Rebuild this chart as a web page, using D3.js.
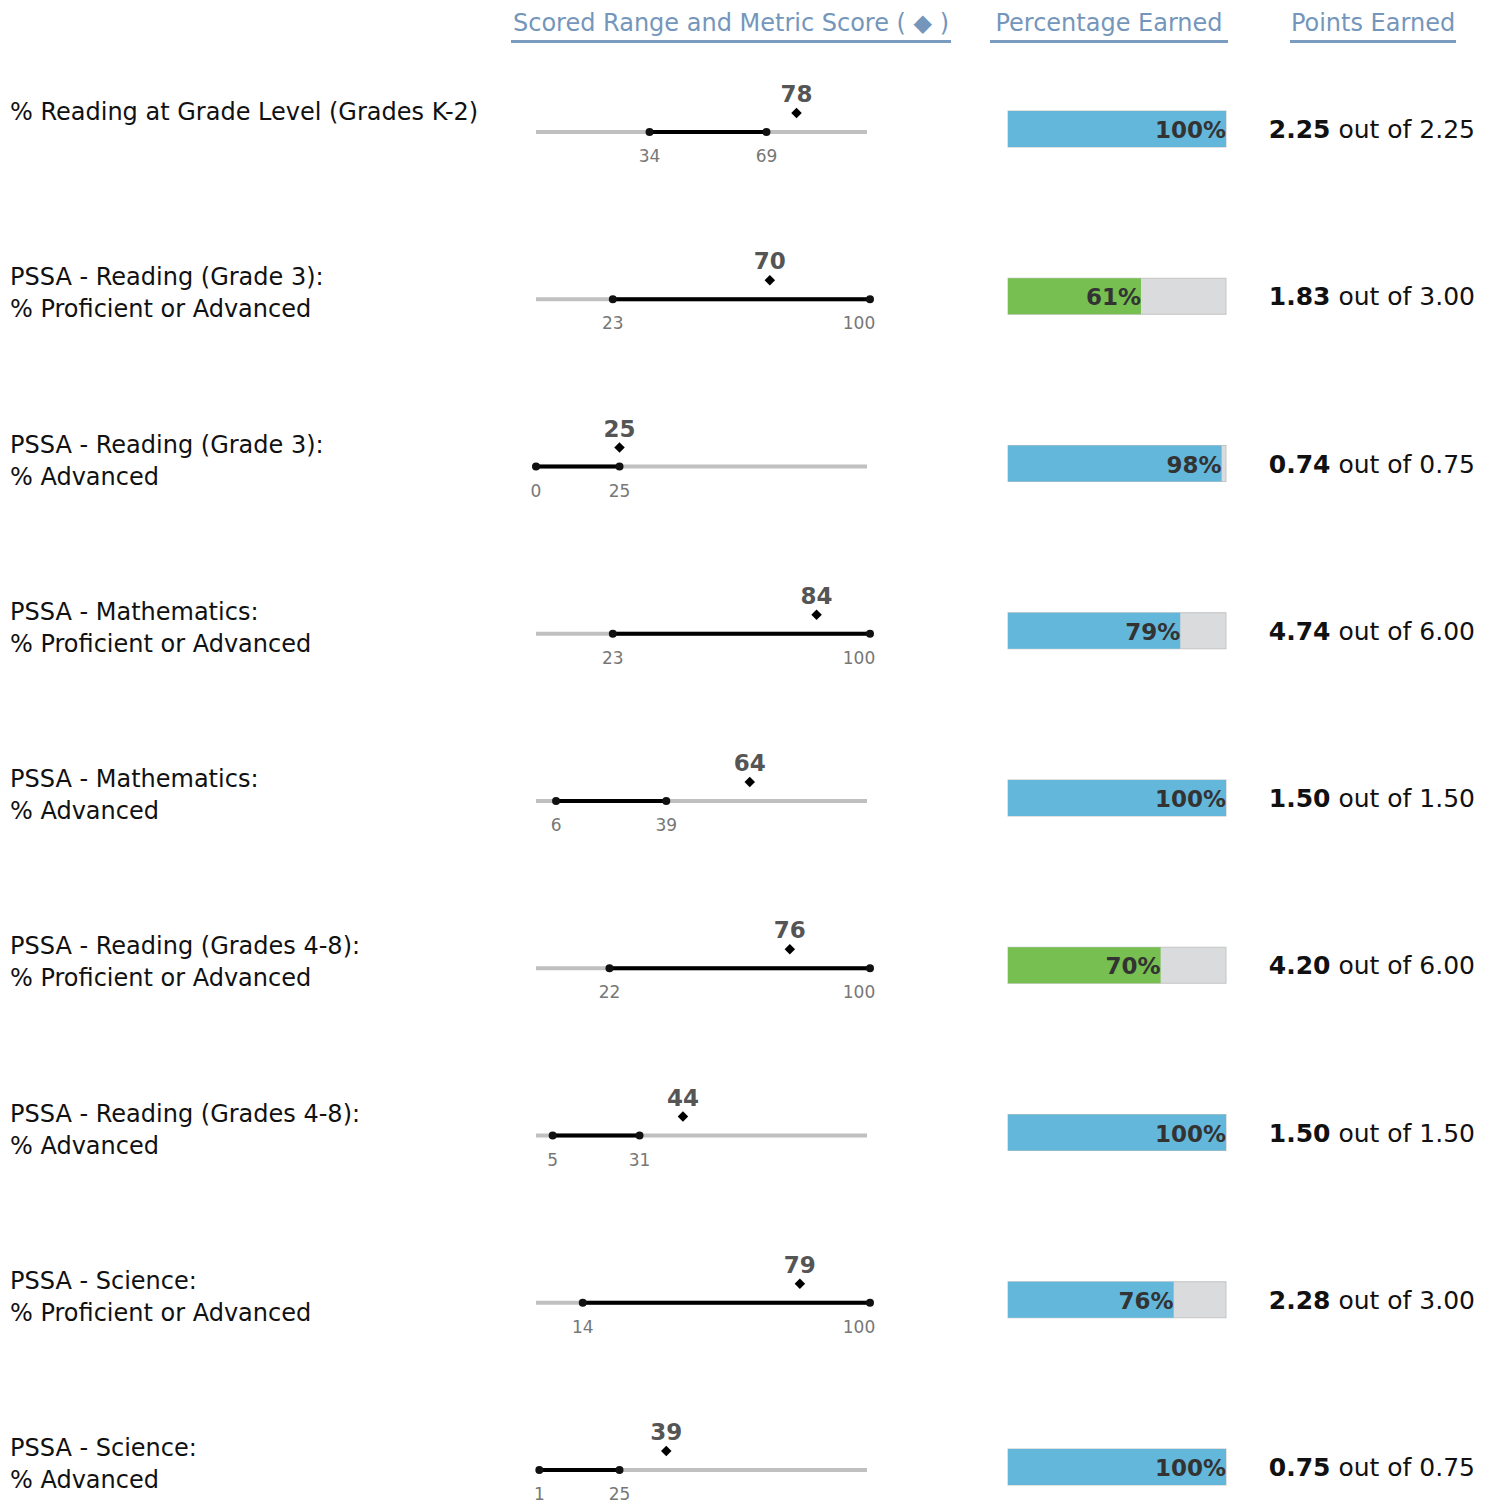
<!DOCTYPE html>
<html><head><meta charset="utf-8">
<script src="https://cdn.jsdelivr.net/npm/d3@7"></script>
<style>body{margin:0;background:#fff}svg{display:block}</style>
</head><body>
<script>
const labelLines = [
  ["% Reading at Grade Level (Grades K-2)"],
  ["PSSA - Reading (Grade 3):", "% Proficient or Advanced"],
  ["PSSA - Reading (Grade 3):", "% Advanced"],
  ["PSSA - Mathematics:", "% Proficient or Advanced"],
  ["PSSA - Mathematics:", "% Advanced"],
  ["PSSA - Reading (Grades 4-8):", "% Proficient or Advanced"],
  ["PSSA - Reading (Grades 4-8):", "% Advanced"],
  ["PSSA - Science:", "% Proficient or Advanced"],
  ["PSSA - Science:", "% Advanced"]
];
const rangeLow  = [34, 23, 0, 23, 6, 22, 5, 14, 1];
const rangeHigh = [69, 100, 25, 100, 39, 100, 31, 100, 25];
const scores    = [78, 70, 25, 84, 64, 76, 44, 79, 39];
const pctEarned = [100, 61, 98, 79, 100, 70, 100, 76, 100];
const pointsEarned = ["2.25", "1.83", "0.74", "4.74", "1.50", "4.20", "1.50", "2.28", "0.75"];
const pointsMax    = ["2.25", "3.00", "0.75", "6.00", "1.50", "6.00", "1.50", "3.00", "0.75"];
const barGroup = ["blue", "green", "blue", "blue", "blue", "green", "blue", "blue", "blue"];
const headers = ["Scored Range and Metric Score ( \u25C6 )", "Percentage Earned", "Points Earned"];

const W = 1495, H = 1503;
const svg = d3.select("body").append("svg").attr("width", W).attr("height", H);

const rowY = d3.scaleLinear().domain([0, labelLines.length - 1]).range([132, 1470]);
const x = d3.scaleLinear().domain([0, 100]).range([536, 870]);
const pctX = d3.scaleLinear().domain([0, 100]).range([1008, 1226]);
const barColor = d3.scaleOrdinal().domain(["blue", "green"]).range(["#63b7da", "#76bf50"]);

// headers
const headerCols = [{x0: 511, x1: 951}, {x0: 990, x1: 1228}, {x0: 1290, x1: 1456}];
const hg = svg.append("g");
headers.forEach((h, i) => {
  const c = headerCols[i];
  hg.append("text").attr("x", (c.x0 + c.x1) / 2).attr("y", 31)
    .attr("text-anchor", "middle").attr("font-family", "DejaVu Sans, Verdana, sans-serif")
    .attr("font-size", 24).attr("fill", "#7596bb").text(h);
  hg.append("line").attr("x1", c.x0).attr("x2", c.x1).attr("y1", 41.5).attr("y2", 41.5)
    .attr("stroke", "#7a9cc0").attr("stroke-width", 3);
});

const rows = svg.selectAll("g.row").data(labelLines.map((l, i) => i)).join("g").attr("class", "row");

// labels
rows.each(function(i) {
  const g = d3.select(this);
  const lines = labelLines[i];
  const cy = rowY(i);
  const t = g.append("text").attr("font-family", "DejaVu Sans, Verdana, sans-serif")
    .attr("font-size", 24).attr("fill", "#111");
  if (lines.length === 1) {
    t.append("tspan").attr("x", 10).attr("y", cy - 12).text(lines[0]);
  } else {
    lines.forEach((ln, k) => {
      t.append("tspan").attr("x", 10).attr("y", cy - 14 + k * 32).text(ln);
    });
  }
});

// range chart
rows.each(function(i) {
  const g = d3.select(this);
  const cy = rowY(i);
  g.append("line").attr("x1", x(0)).attr("x2", x(100) - 3).attr("y1", cy).attr("y2", cy)
    .attr("stroke", "#c0c0c0").attr("stroke-width", 4);
  g.append("line").attr("x1", x(rangeLow[i])).attr("x2", x(rangeHigh[i])).attr("y1", cy).attr("y2", cy)
    .attr("stroke", "#000").attr("stroke-width", 4);
  [rangeLow[i], rangeHigh[i]].forEach(v => {
    g.append("circle").attr("cx", x(v)).attr("cy", cy).attr("r", 4).attr("fill", "#111");
    const tx = Math.min(x(v), 859);
    g.append("text").attr("x", tx).attr("y", cy + 30).attr("text-anchor", "middle")
      .attr("font-family", "DejaVu Sans, Verdana, sans-serif").attr("font-size", 17)
      .attr("fill", "#777").text(v);
  });
  g.append("path").attr("d", d3.symbol(d3.symbolDiamond2, 70)())
    .attr("transform", `translate(${x(scores[i])},${cy - 19})`).attr("fill", "#000");
  g.append("text").attr("x", x(scores[i])).attr("y", cy - 30).attr("text-anchor", "middle")
    .attr("font-family", "DejaVu Sans, Verdana, sans-serif").attr("font-size", 23).attr("font-weight", "bold")
    .attr("fill", "#555").text(scores[i]);
});

// percentage bars
rows.each(function(i) {
  const g = d3.select(this);
  const cy = rowY(i) - 3;
  g.append("rect").attr("x", pctX(0)).attr("y", cy - 18).attr("width", pctX(100) - pctX(0)).attr("height", 36)
    .attr("fill", "#dadbdc").attr("stroke", "#c4c4c4").attr("stroke-width", 1);
  g.append("rect").attr("x", pctX(0)).attr("y", cy - 18).attr("width", pctX(pctEarned[i]) - pctX(0)).attr("height", 36)
    .attr("fill", barColor(barGroup[i]));
  g.append("text").attr("x", pctX(pctEarned[i])).attr("y", cy + 9).attr("text-anchor", "end")
    .attr("font-family", "DejaVu Sans, Verdana, sans-serif").attr("font-size", 23).attr("font-weight", "bold")
    .attr("fill", "#333").text(pctEarned[i] + "%");
});

// points
rows.each(function(i) {
  const g = d3.select(this);
  const cy = rowY(i) - 3;
  const t = g.append("text").attr("x", 1475).attr("y", cy + 9).attr("text-anchor", "end")
    .attr("font-family", "DejaVu Sans, Verdana, sans-serif").attr("font-size", 25).attr("fill", "#111");
  t.append("tspan").attr("font-weight", "bold").text(pointsEarned[i]);
  t.append("tspan").text(" out of " + pointsMax[i]);
});
</script>
</body></html>
